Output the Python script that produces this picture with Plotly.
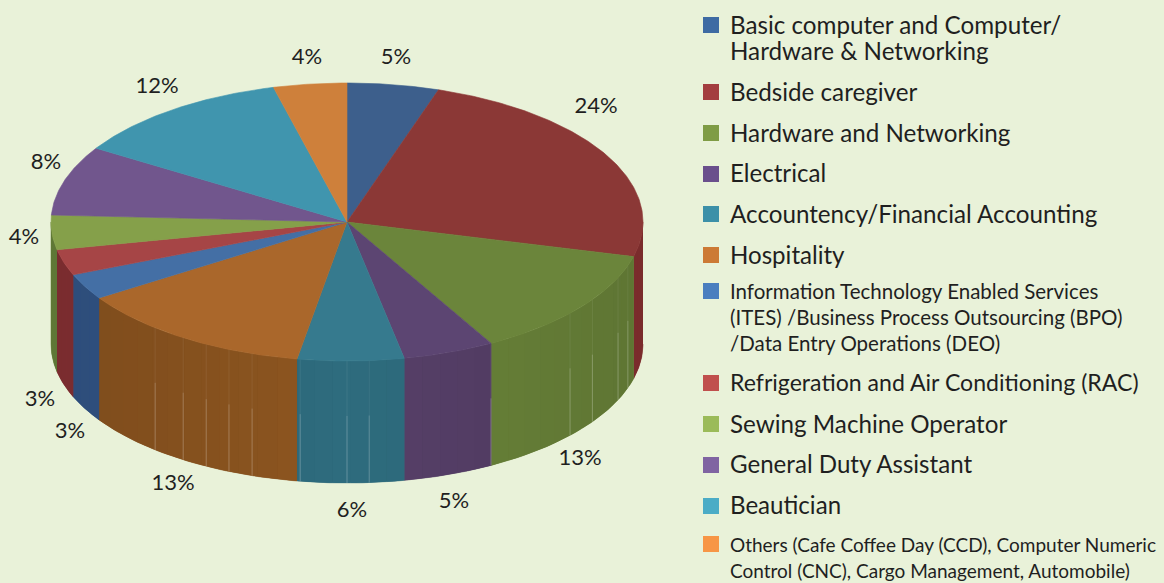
import numpy as np
import plotly.graph_objects as go

# ---- data ----
categories = [
    "Basic computer and Computer/<br>Hardware & Networking",
    "Bedside caregiver",
    "Hardware and Networking",
    "Electrical",
    "Accountency/Financial Accounting",
    "Hospitality",
    "Information Technology Enabled Services<br>(ITES) /Business Process Outsourcing (BPO)<br>/Data Entry Operations (DEO)",
    "Refrigeration and Air Conditioning (RAC)",
    "Sewing Machine Operator",
    "General Duty Assistant",
    "Beautician",
    "Others (Cafe Coffee Day (CCD), Computer Numeric<br>Control (CNC), Cargo Management, Automobile)",
]
# slice sizes; the printed labels are rounded
values = [5, 24, 12.9, 5, 5.8, 13.1, 3, 3, 4, 8.1, 12.1, 4]
labels = ["5%", "24%", "13%", "5%", "6%", "13%", "3%", "3%", "4%", "8%", "12%", "4%"]
legend_colors = ["#3E6BA3", "#A33E3F", "#7F9C45", "#6A4F8C", "#3C90A8", "#CC7A35",
                 "#4A7EBF", "#C0504D", "#9BBB59", "#8064A2", "#4BACC6", "#F79646"]
top_colors = ["#3D5F8C", "#8B3836", "#6B853B", "#5C4572", "#367A8E", "#AA672B",
              "#446FA5", "#A64546", "#85A04A", "#71568D", "#4095AE", "#CE803B"]
wall_colors = ["#33578A", "#8A3232", "#6B853A", "#574069", "#2E6C7E", "#8E5620",
               "#33578A", "#8A3235", "#6B873D", "#574069", "#2E6C7E", "#8E5620"]

# layout of the drawing (pixel-scaled axes)
CX, CY, RX, RY, DEPTH = 347, 222, 296, 139, 122
BG = "#E9F2D9"
TEXT = "#1F1F1F"
label_xy = [(396, 58), (596, 107), (580, 459), (454, 502), (352, 511), (173, 484),
            (70, 432), (40, 400), (24, 238), (46, 163), (157, 87), (307, 58)]
legend_y = [24, 91, 132, 172, 213, 254, 291, 382, 423, 463, 504, 544]
legend_size = [24.2, 24.2, 24.2, 24.1, 24.2, 24.1, 20.5, 23.1, 24.2, 24.1, 24.1, 19]
swatch_y = [25, 92, 133, 174, 214, 255, 291, 383, 424, 465, 506, 544]
seam_deg = [108.4, 113.7, 124, 131.1, 150.9, 175.7, 180, 189.1, 198.7, 203.5, 208.4, 213.6, 220.4]
LINE_GAP = 26


def ex(t):
    return CX + RX * np.sin(t)


def ey(t):
    return CY - RY * np.cos(t)


def shade(hex_color, k):
    r, g, b = (int(hex_color[i:i + 2], 16) for i in (1, 3, 5))
    return f"rgb({r * k:.0f},{g * k:.0f},{b * k:.0f})"


def wall_shape(a, b, pts):
    t = np.linspace(a, b, pts)
    return np.r_[ex(t), ex(t[::-1])], np.r_[ey(t), ey(t[::-1]) + DEPTH]


fig = go.Figure()
edges = np.radians(np.cumsum([0] + values) * 3.6)

# side walls, only the front half of the disc shows
for i in range(len(values)):
    a = max(edges[i], np.pi / 2)
    b = min(edges[i + 1], 3 * np.pi / 2)
    if b <= a:
        continue
    base = shade(wall_colors[i], 0.93)
    xs, ys = wall_shape(a, b, 40)
    fig.add_trace(go.Scatter(x=xs, y=ys, mode="lines", fill="toself", fillcolor=base,
                             line=dict(color=base, width=0.5), hoverinfo="skip"))
    n = max(1, int(np.ceil((b - a) / np.radians(4))))
    cuts = np.linspace(a, b, n + 1)
    for s in range(n):
        k = 1 - 0.12 * abs(np.sin((cuts[s] + cuts[s + 1]) / 2))
        xs, ys = wall_shape(cuts[s], cuts[s + 1], 5)
        fig.add_trace(go.Scatter(x=xs, y=ys, mode="none", fill="toself",
                                 fillcolor=shade(wall_colors[i], k), hoverinfo="skip"))

# faint vertical seams on the walls
for d in seam_deg:
    t = np.radians(d)
    x0, y0 = float(ex(t)), float(ey(t))
    fig.add_trace(go.Scatter(x=[x0, x0], y=[y0, y0 + DEPTH * 0.45], mode="lines",
                             line=dict(color="rgba(255,255,255,0.07)", width=1), hoverinfo="skip"))
    fig.add_trace(go.Scatter(x=[x0, x0], y=[y0 + DEPTH * 0.45, y0 + DEPTH], mode="lines",
                             line=dict(color="rgba(255,255,255,0.25)", width=1), hoverinfo="skip"))

# top face
for i in range(len(values)):
    t = np.linspace(edges[i], edges[i + 1], max(6, int(values[i] * 6)))
    xs = np.r_[CX, ex(t), CX]
    ys = np.r_[CY, ey(t), CY]
    fig.add_trace(go.Scatter(x=xs, y=ys, mode="lines", fill="toself", fillcolor=top_colors[i],
                             line=dict(color=top_colors[i], width=0.6), hoverinfo="skip"))

# percentage labels
fig.add_trace(go.Scatter(x=[p[0] for p in label_xy], y=[p[1] for p in label_xy], mode="text",
                         text=labels, textposition="middle center",
                         textfont=dict(family="Lato", size=22, color=TEXT), hoverinfo="skip"))

# legend swatches
fig.add_trace(go.Scatter(x=[711] * len(categories), y=swatch_y, mode="markers",
                         marker=dict(symbol="square", size=16, color=legend_colors, line=dict(width=0)),
                         hoverinfo="skip"))

# legend text, one annotation per line
for name, y0, size in zip(categories, legend_y, legend_size):
    for j, line in enumerate(name.split("<br>")):
        fig.add_annotation(x=728, y=y0 + j * LINE_GAP, text=line, showarrow=False, xanchor="left",
                           yanchor="middle", xref="x", yref="y", align="left",
                           font=dict(family="Lato", size=size, color=TEXT))

fig.update_layout(
    width=1164, height=583, margin=dict(l=0, r=0, t=0, b=0), showlegend=False,
    paper_bgcolor=BG, plot_bgcolor=BG,
    xaxis=dict(range=[0, 1164], visible=False, fixedrange=True),
    yaxis=dict(range=[583, 0], visible=False, fixedrange=True),
)
fig.write_html("out.html", config=dict(displayModeBar=False),
               post_script="document.body.style.margin='0';document.body.style.background='#E9F2D9';")
